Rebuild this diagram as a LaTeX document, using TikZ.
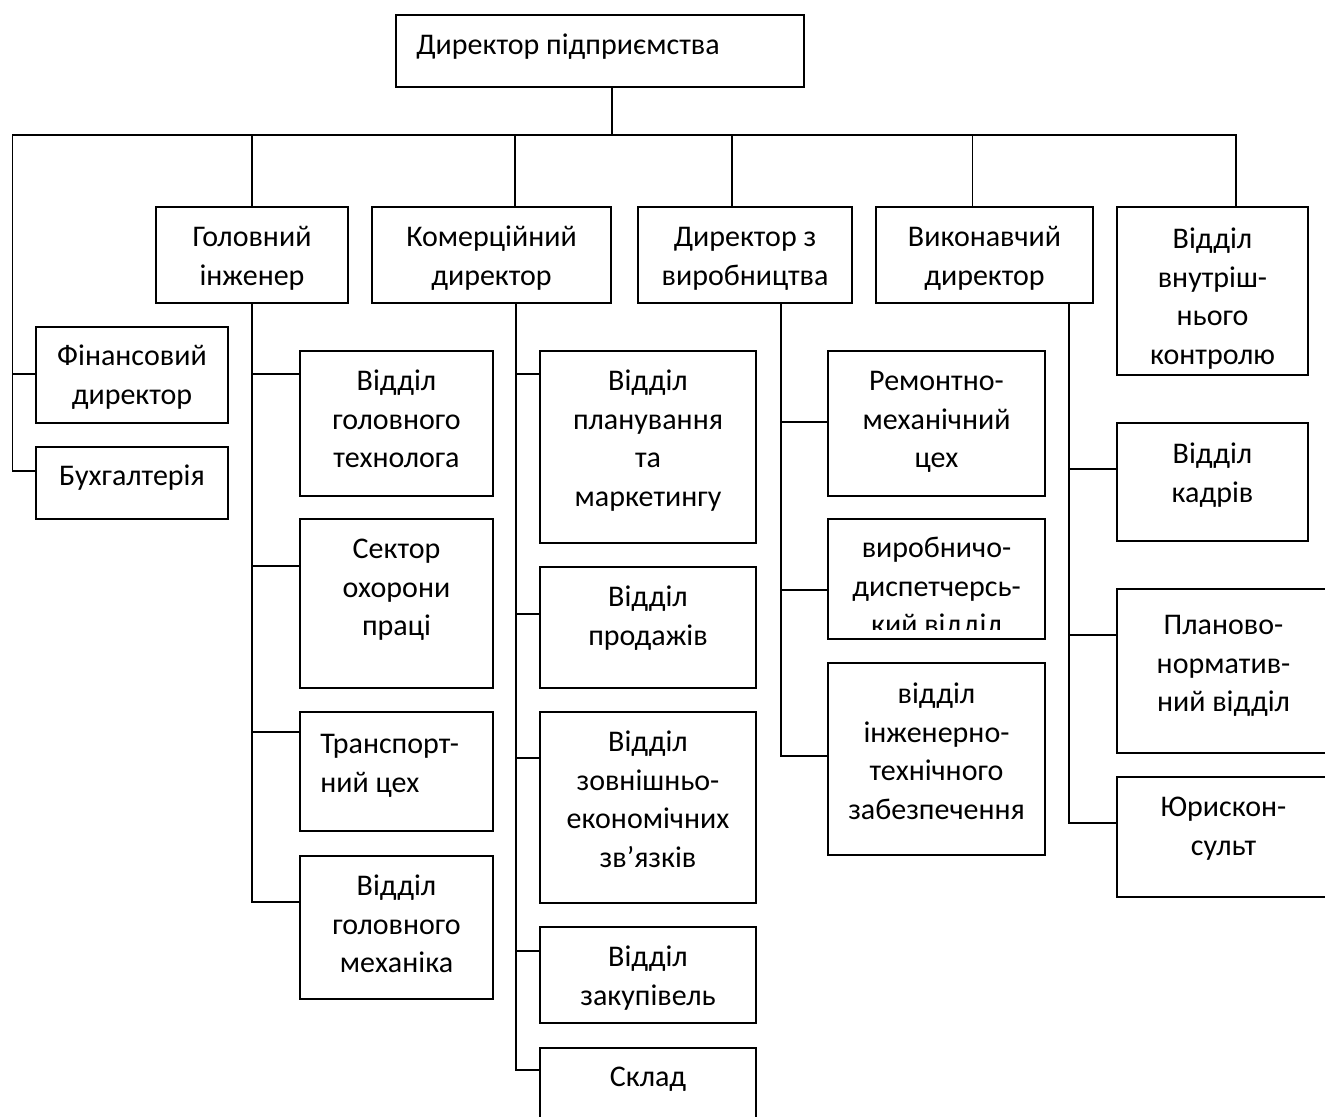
\documentclass[tikz,border=0pt]{standalone}
\usepackage{fontspec}
\setmainfont{Carlito}
\usetikzlibrary{fit,calc}
\newcommand\bx[5]{\node[box, fit={(#2,#3) (#4,#5)}] (#1) {};}
% #2 = distance (px) from box top to first baseline
\newcommand\tx[3]{\node[txt] at ($(#1.north)+(0,#2-28)$) {\rule{0pt}{14pt}#3};}
\begin{document}
\begin{tikzpicture}[x=0.5pt,y=-0.5pt,
  box/.style={draw, line width=1pt, inner sep=0pt, rectangle},
  txt/.style={anchor=north, inner sep=0pt, align=center,
    font=\fontsize{15pt}{19.3pt}\selectfont},
  txtl/.style={txt, anchor=north west, align=left},
  conn/.style={line width=0.8pt}]
\useasboundingbox (0,0) rectangle (1325,1116);
\clip (0,0) rectangle (1325,1116);

% ---- boxes ----
\bx{top}{396}{15}{804}{87}
\bx{gol}{156}{207}{348}{303}
\bx{kom}{372}{207}{611}{303}
\bx{dvy}{638}{207}{852}{303}
\bx{vyk}{876}{207}{1093}{303}
\bx{vvk}{1117}{207}{1308}{375}
\bx{fin}{36}{327}{228}{423}
\bx{buh}{36}{447}{228}{519}
\bx{tech}{300}{351}{493}{496}
\bx{okh}{300}{519}{493}{688}
\bx{trans}{300}{712}{493}{831}
\bx{mech}{300}{856}{493}{999}
\bx{plan}{540}{351}{756}{543}
\bx{prod}{540}{567}{756}{688}
\bx{zed}{540}{712}{756}{903}
\bx{zak}{540}{927}{756}{1023}
\bx{skl}{540}{1048}{756}{1140}
\bx{rem}{828}{351}{1045}{496}
\bx{vyr}{828}{519}{1045}{639}
\bx{inzh}{828}{663}{1045}{855}
\bx{kad}{1117}{423}{1308}{541}
\bx{plnv}{1117}{589}{1330}{753}
\bx{jur}{1117}{777}{1330}{897}

% ---- texts ----
\node[txtl] at ($(top.north west)+(21,40-28)$) {\rule{0pt}{14pt}Директор підприємства};
\tx{gol}{40}{Головний\\інженер}
\tx{kom}{40}{Комерційний\\директор}
\tx{dvy}{40}{Директор з\\виробництва}
\tx{vyk}{40}{Виконавчий\\директор}
\tx{vvk}{42}{Відділ\\внутріш-\\нього\\контролю}
\tx{fin}{39}{Фінансовий\\директор}
\tx{buh}{39}{Бухгалтерія}
\tx{tech}{40}{Відділ\\головного\\технолога}
\tx{okh}{40}{Сектор\\охорони\\праці}
\node[txtl] at ($(trans.north west)+(21,42-28)$) {\rule{0pt}{14pt}Транспорт-\\ний цех};
\tx{mech}{40}{Відділ\\головного\\механіка}
\tx{plan}{40}{Відділ\\планування\\та\\маркетингу}
\tx{prod}{40}{Відділ\\продажів}
\tx{zed}{40}{Відділ\\зовнішньо-\\економічних\\зв’язків}
\tx{zak}{40}{Відділ\\закупівель}
\tx{skl}{39}{Склад}
\tx{rem}{40}{Ремонтно-\\механічний\\цех}
\begin{scope}
  \clip (vyr.north west) rectangle ($(vyr.south east)+(0,-11)$);
  \tx{vyr}{39}{виробничо-\\диспетчерсь-\\кий відділ}
\end{scope}
\tx{inzh}{41}{відділ\\інженерно-\\технічного\\забезпечення}
\tx{kad}{41}{Відділ\\кадрів}
\tx{plnv}{46}{Планово-\\норматив-\\ний відділ}
\tx{jur}{40}{Юрискон-\\сульт}

% ---- main bus ----
\coordinate (busL) at (12.5,135);
\coordinate (tb) at ($(top.south)+(12,0)$);
\coordinate (vd) at ($(vvk.north)+(23.5,0)$);
\coordinate (kd) at ($(kom.north)+(23.5,0)$);
\coordinate (dd) at ($(dvy.north)+(-13,0)$);
\coordinate (ed) at ($(vyk.north)+(-12,0)$);
\coordinate (fc) at ($(fin.north west)+(0,48)$);
\draw[conn] (tb) -- (tb |- busL);
\draw[conn] ($(buh.north west)+(0,25)$) -| (busL) -| (vd);
\draw[conn] (fc) -- (busL |- fc);
\draw[conn] (gol.north) -- (gol.north |- busL);
\draw[conn] (kd) -- (kd |- busL);
\draw[conn] (dd) -- (dd |- busL);
\draw[conn] (ed) -- (ed |- busL);

% ---- Головний інженер ----
\coordinate (gt) at (gol.south);
\draw[conn] (gt) |- ($(mech.north west)+(0,47)$);
\foreach \c/\d in {tech/24,okh/48,trans/21}{
  \coordinate (p) at ($(\c.north west)+(0,\d)$);
  \draw[conn] (p) -- (gt |- p);}

% ---- Комерційний директор ----
\coordinate (kt) at ($(kom.south)+(24.5,0)$);
\draw[conn] (kt) |- ($(skl.north west)+(0,23)$);
\foreach \c/\d in {plan/24,prod/48,zed/47,zak/25}{
  \coordinate (p) at ($(\c.north west)+(0,\d)$);
  \draw[conn] (p) -- (kt |- p);}

% ---- Директор з виробництва ----
\coordinate (dt) at ($(dvy.south)+(36,0)$);
\draw[conn] (dt) |- ($(inzh.north west)+(0,94)$);
\foreach \c/\d in {rem/72,vyr/72}{
  \coordinate (p) at ($(\c.north west)+(0,\d)$);
  \draw[conn] (p) -- (dt |- p);}

% ---- Виконавчий директор ----
\coordinate (et) at ($(vyk.south)+(84.5,0)$);
\draw[conn] (et) |- ($(jur.north west)+(0,47)$);
\foreach \c/\d in {kad/47,plnv/47}{
  \coordinate (p) at ($(\c.north west)+(0,\d)$);
  \draw[conn] (p) -- (et |- p);}
\end{tikzpicture}
\end{document}
